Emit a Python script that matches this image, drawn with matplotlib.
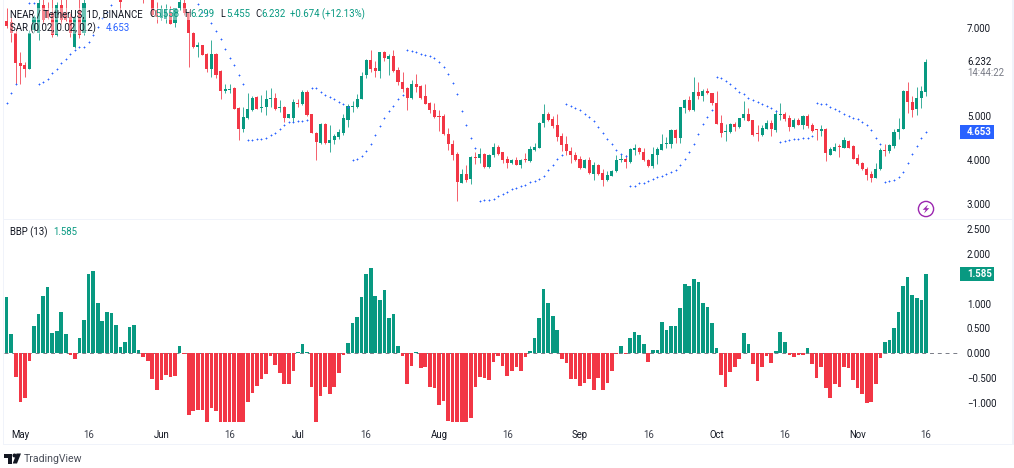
"""
NEAR / TetherUS daily chart with Parabolic SAR and Bull Bear Power panes.
"""
import numpy as np
import pandas as pd
import matplotlib
matplotlib.use('Agg')  # Non-interactive backend
import matplotlib.pyplot as plt
from matplotlib.patches import Circle, Polygon, Rectangle
from matplotlib.transforms import Affine2D

W, H = 1014, 468
GREEN = '#089981'
RED = '#F23645'
BLUE = '#2962FF'
DARK = '#131722'
GREY = '#787B86'
FRAME = '#F0F3FA'

nan = None
first_day = '2023-04-28'

opens = [7.17,7.14,6.88,6.21,6.16,6.08,6.95,6.88,7.52,7.41,
         7.33,6.84,7.52,7.35,7.26,6.58,7.41,6.88,nan,nan,
         nan,nan,nan,nan,nan,7.9,nan,nan,nan,nan,
         7.9,nan,8.0,7.41,7.22,7.2,7.33,7.11,7.45,7.56,
         7.33,6.88,6.58,6.61,6.42,6.06,6.42,6.03,5.58,5.59,
         5.65,5.19,4.72,4.95,5.15,5.44,5.19,5.21,5.38,5.42,
         5.19,5.21,4.97,4.95,5.31,5.27,5.55,5.04,4.63,4.40,
         4.83,4.40,4.47,4.53,4.62,4.92,5.20,5.20,5.40,5.93,
         6.27,6.09,6.03,6.46,6.29,6.36,6.05,5.77,5.63,5.41,
         5.73,5.68,5.45,5.29,5.15,4.99,5.00,4.60,4.38,4.14,
         3.49,3.68,3.57,4.08,4.05,4.15,3.85,4.11,4.30,4.18,
         4.03,3.94,4.00,3.89,4.02,3.98,4.23,4.29,4.85,5.05,
         4.93,4.79,4.54,4.36,4.21,4.12,4.03,3.83,4.00,3.70,
         3.89,3.71,3.55,3.65,3.75,4.01,4.03,3.96,4.24,4.29,
         4.19,4.01,3.86,4.13,4.24,4.37,4.38,4.68,4.51,5.19,
         5.36,5.14,5.56,5.45,5.57,5.52,5.30,4.84,4.65,4.64,
         4.83,4.76,4.95,5.05,4.91,4.61,4.57,4.72,4.85,4.68,
         5.03,5.06,4.96,4.76,4.92,4.80,5.00,4.79,4.70,4.66,
         4.72,4.13,4.21,4.32,4.29,4.44,4.32,4.05,3.94,3.81,
         3.68,3.60,3.81,4.23,4.20,4.32,4.64,4.70,5.57,5.33,
         5.16,5.41,5.558]

highs = [7.45,7.25,7.00,6.46,6.23,6.95,7.3,7.65,7.7,7.6,
         7.7,7.6,7.7,7.7,7.35,7.4,7.7,7.7,nan,nan,
         nan,nan,nan,nan,nan,8.0,nan,nan,nan,nan,
         8.0,nan,8.0,7.6,7.52,7.55,7.5,7.45,7.65,7.7,
         7.4,6.9,6.69,6.62,6.43,6.74,6.43,6.05,5.74,5.74,
         5.66,5.2,5.21,5.52,5.45,5.46,5.48,5.60,5.65,5.52,
         5.36,5.24,5.05,5.40,5.40,5.60,5.60,5.05,4.65,4.85,
         4.85,4.80,4.60,4.72,5.06,5.27,5.35,5.50,6.01,6.30,
         6.50,6.25,6.46,6.49,6.40,6.50,6.11,6.01,5.67,5.83,
         5.96,5.70,5.72,5.33,5.30,5.14,5.05,4.74,4.45,4.19,
         3.81,3.89,4.09,4.19,4.27,4.17,4.14,4.40,4.34,4.19,
         4.09,4.02,4.08,4.04,4.17,4.32,4.39,4.87,5.27,5.09,
         5.01,5.04,4.62,4.56,4.30,4.19,4.09,4.04,4.08,3.96,
         3.92,3.81,3.76,3.77,4.11,4.15,4.11,4.29,4.38,4.30,
         4.27,4.04,4.30,4.30,4.59,4.53,4.70,4.70,5.21,5.40,
         5.45,5.88,5.78,5.61,5.65,5.53,5.58,5.02,4.82,4.85,
         4.87,4.97,5.34,5.18,4.92,4.80,4.80,4.92,4.92,5.14,
         5.29,5.10,5.02,4.95,4.95,5.02,5.06,4.85,4.70,4.81,
         4.74,4.30,4.39,4.36,4.52,4.45,4.34,4.15,3.96,3.85,
         3.76,3.94,4.29,4.36,4.38,4.70,4.95,5.59,5.78,5.45,
         5.67,5.68,6.299]

lows = [7.00,6.69,5.74,5.74,5.89,6.08,6.9,6.73,7.10,7.2,
        6.80,6.82,7.10,7.15,6.80,6.55,6.78,6.85,nan,nan,
        nan,nan,nan,nan,nan,7.42,nan,nan,nan,nan,
        7.56,nan,7.28,7.11,7.18,7.12,7.1,7.03,7.4,7.3,
        6.12,6.55,6.35,6.38,6.0,5.89,5.87,5.40,5.52,5.53,
        5.17,4.45,4.64,4.94,5.12,5.17,5.10,5.02,5.21,5.14,
        5.10,4.87,4.95,4.87,5.21,5.25,5.0,4.62,4.0,4.38,
        4.38,4.19,4.38,4.49,4.57,4.76,5.10,5.19,5.38,5.87,
        6.01,5.89,5.87,6.26,5.93,6.01,5.70,5.55,5.14,5.40,
        5.55,5.40,5.27,5.08,4.97,4.66,4.57,4.24,4.00,3.07,
        3.48,3.51,3.47,3.92,3.94,3.83,3.83,4.08,4.13,3.94,
        3.83,3.92,3.89,3.83,3.96,3.96,4.21,4.29,4.76,4.89,
        4.74,4.43,4.21,4.11,3.94,3.99,3.81,3.82,3.70,3.56,
        3.67,3.42,3.54,3.64,3.73,3.96,3.83,3.95,4.12,4.15,
        3.98,3.85,3.83,3.92,4.23,4.29,4.29,4.39,4.39,5.08,
        5.12,5.12,5.38,5.35,5.50,5.26,4.82,4.53,4.44,4.62,
        4.66,4.74,4.92,4.89,4.55,4.44,4.55,4.70,4.55,4.64,
        4.92,4.89,4.67,4.74,4.80,4.72,4.74,4.64,4.45,4.55,
        3.99,4.11,4.20,4.08,4.27,4.27,4.02,3.89,3.79,3.56,
        3.50,3.59,3.79,4.09,4.17,4.29,4.49,4.70,5.08,4.99,
        5.02,5.18,5.455]

closes = [7.05,6.88,6.21,6.14,6.08,6.88,7.25,7.56,7.18,7.22,
          6.84,7.52,7.18,7.18,6.88,7.26,6.84,7.56,nan,nan,
          nan,nan,nan,nan,nan,7.6,nan,nan,nan,nan,
          7.7,nan,7.30,7.26,7.44,7.41,7.1,7.45,7.6,7.33,
          6.88,6.58,6.61,6.39,6.06,6.41,5.93,5.58,5.62,5.62,
          5.17,4.72,4.98,5.17,5.42,5.17,5.21,5.39,5.42,5.17,
          5.21,4.97,5.04,5.32,5.27,5.54,5.02,4.62,4.42,4.83,
          4.40,4.47,4.55,4.64,4.95,5.23,5.23,5.40,5.92,6.27,
          6.06,6.03,6.46,6.31,6.36,6.03,5.78,5.61,5.41,5.73,
          5.67,5.42,5.27,5.14,4.99,4.98,4.59,4.36,4.12,3.51,
          3.68,3.56,4.08,4.05,4.15,3.85,4.12,4.30,4.15,4.01,
          3.95,4.00,3.89,4.01,4.01,4.25,4.30,4.85,5.05,4.91,
          4.77,4.53,4.34,4.20,4.11,4.00,3.83,4.00,3.71,3.89,
          3.68,3.55,3.66,3.75,4.01,4.04,3.96,4.25,4.29,4.18,
          4.00,3.86,4.14,4.25,4.38,4.39,4.68,4.51,5.20,5.36,
          5.14,5.56,5.45,5.57,5.52,5.30,4.83,4.61,4.66,4.83,
          4.76,4.96,5.05,4.89,4.58,4.60,4.74,4.85,4.70,5.04,
          5.06,4.94,4.76,4.92,4.81,5.00,4.77,4.66,4.68,4.72,
          4.17,4.26,4.30,4.31,4.45,4.29,4.03,3.92,3.80,3.67,
          3.60,3.81,4.23,4.22,4.34,4.65,4.72,5.57,5.33,5.15,
          5.42,5.57,6.232]

sar = [5.29,5.52,5.74,nan,nan,7.57,7.56,5.74,5.78,5.85,
       5.97,6.08,6.20,6.30,6.41,6.50,6.56,6.56,6.69,6.84,
       7.03,7.22,7.37,7.52,nan,nan,nan,nan,nan,nan,
       nan,nan,nan,nan,nan,nan,nan,nan,nan,nan,
       nan,nan,7.54,7.36,7.30,7.11,6.94,6.76,6.52,6.33,
       6.16,5.93,5.74,4.45,4.47,4.48,4.49,4.51,4.57,4.63,
       4.70,4.80,4.87,4.87,4.89,4.89,4.92,5.65,5.63,5.55,
       5.49,5.44,5.39,5.33,5.27,5.21,4.00,4.04,4.09,4.21,
       4.38,4.57,4.77,4.95,5.11,5.24,5.38,5.48,6.50,6.49,
       6.45,6.42,6.39,6.37,6.32,6.24,6.12,5.95,5.76,5.50,
       5.12,4.79,4.51,4.29,3.07,3.09,3.11,3.13,3.20,3.24,
       3.29,3.34,3.38,3.41,3.45,3.50,3.53,3.57,3.65,3.77,
       3.90,4.02,4.11,5.27,5.24,5.19,5.14,5.06,4.99,4.89,
       4.75,4.63,4.49,4.36,4.24,4.14,4.10,3.41,3.42,3.48,
       3.49,3.54,3.58,3.62,3.65,3.70,3.74,3.79,3.90,4.03,
       4.19,4.37,4.60,4.82,4.99,5.14,5.88,5.87,5.81,5.72,
       5.64,5.56,5.50,5.42,5.37,5.33,5.27,5.23,5.18,5.12,
       4.42,4.44,4.45,4.48,4.49,4.51,4.51,4.54,5.29,5.27,
       5.27,5.21,5.16,5.11,5.06,5.01,4.96,4.94,4.88,4.80,
       4.68,4.51,4.38,3.50,3.52,3.55,3.63,3.74,3.93,4.14,
       4.33,4.50,4.653]

bbp = [1.13,0.385,-0.47,-0.98,-0.91,-0.155,0.55,0.78,1.16,1.34,
       0.41,0.45,0.82,0.385,-0.03,-0.115,0.30,0.675,1.60,1.66,
       1.01,0.655,0.82,0.80,0.57,0.12,0.22,0.53,0.57,0.07,
       -0.07,-0.15,-0.51,-0.74,-0.53,-0.44,-0.47,-0.45,0.15,-0.02,
       -1.24,-1.16,-1.14,-1.14,-1.40,-1.10,-1.17,-1.40,-1.40,-1.385,
       -1.40,-1.40,-1.40,-0.99,-0.80,-0.655,-0.52,-0.41,-0.05,-0.23,
       -0.39,-0.61,-0.62,-0.36,0.03,0.19,0.03,-0.68,-1.40,-0.86,
       -0.68,-0.82,-0.68,-0.39,-0.03,0.20,0.61,0.72,1.14,1.60,
       1.72,1.16,1.08,1.28,0.70,0.78,0.135,-0.05,-0.62,-0.26,
       0.03,-0.30,-0.28,-0.68,-0.70,-1.04,-0.97,-1.37,-1.40,-1.40,
       -1.40,-1.40,-1.31,-0.68,-0.48,-0.49,-0.54,-0.18,-0.05,-0.25,
       -0.46,-0.36,-0.28,-0.36,-0.07,0.05,0.30,0.70,1.30,1.01,
       0.75,0.47,-0.11,-0.20,-0.52,-0.52,-0.655,-0.59,-0.52,-0.74,
       -0.49,-0.74,-0.59,-0.36,-0.01,0.15,-0.02,0.30,0.43,0.36,
       0.19,-0.18,0.07,0.07,0.62,0.47,0.54,0.54,0.90,1.40,
       1.35,1.50,1.44,1.01,0.93,0.61,0.11,-0.43,-0.67,-0.38,
       -0.28,-0.115,0.405,0.19,-0.21,-0.56,-0.28,-0.05,-0.19,0.04,
       0.43,0.22,-0.03,-0.07,-0.03,-0.03,0.11,-0.21,-0.49,-0.28,
       -0.70,-0.91,-0.62,-0.67,-0.27,-0.29,-0.53,-0.70,-0.82,-1.01,
       -0.98,-0.61,-0.09,0.22,0.27,0.51,0.82,1.35,1.53,1.18,
       1.11,1.08,1.585]

price_ticks = [3, 4, 5, 7]
bbp_ticks = [-1.0, -0.5, 0.0, 0.5, 1.0, 2.0, 2.5]

plt.rcParams['font.family'] = ['Roboto', 'DejaVu Sans']
plt.rcParams['font.size'] = 6.9


def pane(fig, left, top, right, bottom):
    ax = fig.add_axes([left / W, 1 - bottom / H, (right - left) / W, (bottom - top) / H])
    for spine in ax.spines.values():
        spine.set_visible(False)
    ax.yaxis.tick_right()
    ax.tick_params(length=0, labelsize=6.9, labelcolor=DARK, pad=5)
    ax.set_xlim(-0.587, 209.5)
    return ax


def main():
    dpi = 100
    fig = plt.figure(figsize=(W / dpi, H / dpi), dpi=dpi, facecolor='white')
    px = Affine2D().scale(1, -1).translate(0, H)  # reference pixel coords

    o = np.array(opens, dtype=float)
    h = np.array(highs, dtype=float)
    l = np.array(lows, dtype=float)
    c = np.array(closes, dtype=float)
    s = np.array(sar, dtype=float)
    b = np.array(bbp, dtype=float)
    x = np.arange(len(o))
    dates = pd.date_range(first_day, periods=len(o), freq='D')

    # Price pane
    ax = pane(fig, 4, 0, 960, 218.5)
    ax.set_ylim(2.68, 7.636)
    up = c >= o
    colors = np.where(up, GREEN, RED)
    ok = ~np.isnan(o)
    ax.vlines(x[ok], l[ok], h[ok], colors=colors[ok], lw=0.7, alpha=0.8, zorder=2)
    ax.bar(x[ok], np.maximum(np.abs(c - o)[ok], 0.025), bottom=np.minimum(o, c)[ok],
           width=0.68, color=colors[ok], linewidth=0, zorder=3)
    ax.plot(x, s, ls='none', marker='+', ms=1.9, mew=0.6, color=BLUE, zorder=4)
    ax.set_xticks([])
    ax.set_yticks(price_ticks, [f'{v:.3f}' for v in price_ticks])

    # Bull Bear Power pane
    ax2 = pane(fig, 4, 220, 960, 422.3)
    ax2.set_ylim(-1.39, 2.68)
    ax2.axhline(0, color=GREY, lw=0.7, dashes=(4, 4), zorder=1)
    ax2.bar(x, b, width=0.8, color=np.where(b >= 0, GREEN, RED), linewidth=0, zorder=2)
    ax2.set_yticks(bbp_ticks, [f'{v:.3f}'.replace('-', '\u2212') for v in bbp_ticks])

    # Dates: first of month and the 16th
    keep = [i for i, d in enumerate(dates) if d.day in (1, 16)]
    labels = [dates[i].strftime('%b') if dates[i].day == 1 else '16' for i in keep]
    ax2.set_xticks(keep, labels)
    ax2.tick_params(axis='x', pad=5.5)
    for i, lab in zip(keep, ax2.get_xticklabels()):
        lab.set_color(DARK if dates[i].day == 1 else '#3A3E4A')

    # Last value badges on the scales
    for a, val, col, tall in [(ax, s[-1], BLUE, 0.318), (ax2, b[-1], GREEN, 0.282)]:
        tr = a.get_yaxis_transform()
        a.add_patch(Rectangle((1.0, val - tall / 2), 34 / 956, tall, transform=tr,
                              facecolor=col, edgecolor='none', clip_on=False, zorder=5))
        a.text(1 + 7 / 956, val, f'{val:.3f}', transform=tr, color='white', va='center',
               ha='left', fontsize=6.9, fontweight='bold', zorder=6)
    tr = ax.get_yaxis_transform()
    ax.text(1 + 7 / 956, c[-1], f'{c[-1]:.3f}', transform=tr, color=DARK, va='center', fontsize=6.9)
    fig.text(967 / W, 1 - 72.5 / H, '14:44:22', color=GREY, va='center', fontsize=6.9)

    def label(xp, yp, txt, col=DARK):
        fig.text(xp / W, 1 - yp / H, txt, color=col, va='center', ha='left', fontsize=6.9, zorder=10,
                 bbox=dict(facecolor='white', edgecolor='none', alpha=0.4, pad=0.5))

    # Legends
    label(10, 14, 'NEAR / TetherUS, 1D, BINANCE')
    for xp, letter, value in [(149, 'O', '5.558'), (184, 'H', '6.299'), (220, 'L', '5.455'), (255, 'C', '6.232')]:
        label(xp, 14, letter)
        label(xp + 6, 14, value, GREEN)
    label(290, 14, '+0.674 (+12.13%)', GREEN)
    label(10, 28, 'SAR (0.02, 0.02, 0.2)')
    label(106, 28, '4.653', BLUE)
    label(10, 232, 'BBP (13)')
    label(53, 232, '1.585', GREEN)

    # Frame lines
    for rect in [(3, 0, 1.3, 444.5), (3, 218.6, 1011, 1.4), (3, 443.5, 1011, 1.5), (1012, 0, 2, 445)]:
        fig.add_artist(Rectangle(rect[:2], rect[2], rect[3], transform=px, facecolor=FRAME, edgecolor='none'))

    # Lightning button
    fig.add_artist(Circle((926, 209), 7.6, transform=px, facecolor='white', edgecolor='#9C27B0', lw=1.0))
    fig.add_artist(Polygon([(928, 204.5), (922.7, 209.8), (925.7, 209.8), (924, 213.5), (929.3, 208.2), (926.3, 208.2)],
                           transform=px, facecolor='#9C27B0', edgecolor='none'))

    # TradingView logo
    logo = [[(4, 453.5), (12, 453.5), (12, 463.5), (8, 463.5), (8, 457.5), (4, 457.5)],
            [(16.5, 453.5), (21, 453.5), (17, 463.5), (12.7, 463.5)]]
    for pts in logo:
        fig.add_artist(Polygon(pts, transform=px, facecolor=DARK, edgecolor='none'))
    fig.add_artist(Circle((14.5, 455.5), 2, transform=px, facecolor=DARK, edgecolor='none'))
    fig.text(23.5 / W, 1 - 459 / H, 'TradingView', color='#4A4E59', va='center', fontsize=7.6)

    fig.savefig('out.png', dpi=dpi, facecolor='white')
    plt.close(fig)


if __name__ == "__main__":
    main()
